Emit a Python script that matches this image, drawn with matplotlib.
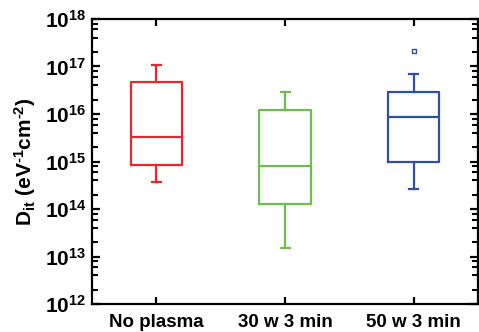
import matplotlib
matplotlib.use('Agg')
import matplotlib.pyplot as plt
from matplotlib.ticker import FixedLocator, NullFormatter

# --- DATA ---
groups = ['No plasma', '30 w 3 min', '50 w 3 min']
colors = ['#e8262d', '#6cbf4a', '#2f4fa2']
whislo = [3.7e14, 1.5e13, 2.6e14]
q1 = [8.4e14, 1.25e14, 1.0e15]
med = [3.3e15, 7.9e14, 8.6e15]
q3 = [4.8e16, 1.2e16, 2.9e16]
whishi = [1.07e17, 2.9e16, 7.1e16]
fliers = [[], [], [2.15e17]]
decades = list(range(12, 19))
minor_subs = [2, 4, 6, 8]

plt.rcParams['font.family'] = ['Liberation Sans', 'DejaVu Sans']
plt.rcParams['font.weight'] = 'bold'
plt.rcParams['mathtext.fontset'] = 'custom'
plt.rcParams['mathtext.rm'] = 'Liberation Sans:bold'
plt.rcParams['mathtext.it'] = 'Liberation Sans:bold'
plt.rcParams['mathtext.bf'] = 'Liberation Sans:bold'

fig = plt.figure(figsize=(4.79, 3.32), dpi=100)
ax = fig.add_axes([0.192, 0.084, 0.806, 0.859])

for i in range(len(groups)):
    c = colors[i]
    s = {'whislo': whislo[i], 'q1': q1[i], 'med': med[i], 'q3': q3[i],
         'whishi': whishi[i], 'fliers': fliers[i]}
    ax.bxp([s], positions=[i + 1], widths=0.4, showfliers=True,
           boxprops=dict(color=c, linewidth=1.6),
           medianprops=dict(color=c, linewidth=1.6),
           whiskerprops=dict(color=c, linewidth=1.6),
           capprops=dict(color=c, linewidth=1.6),
           capwidths=0.07,
           flierprops=dict(marker='s', markersize=3, markerfacecolor='white',
                           markeredgecolor=c, markeredgewidth=1.0))

ax.set_yscale('log')
ax.set_ylim(1e12, 1e18)
ax.set_xlim(0.5, 3.5)
ax.set_xticks([1, 2, 3])
ax.set_xticklabels(groups, fontsize=13.5, fontweight='bold')

ax.yaxis.set_major_locator(FixedLocator([10.0 ** k for k in decades]))
ax.yaxis.set_minor_locator(FixedLocator([m * 10.0 ** k for k in decades[:-1] for m in minor_subs]))
ax.yaxis.set_minor_formatter(NullFormatter())
ax.set_yticklabels(['$10^{%d}$' % k for k in decades], fontsize=15)

ax.tick_params(axis='both', which='both', direction='in', top=True, right=True)
ax.tick_params(axis='y', which='major', length=6, width=1.6, pad=4)
ax.tick_params(axis='y', which='minor', length=4, width=1.5, left=True, right=True)
ax.tick_params(axis='x', which='major', length=5, width=1.6, pad=7)
ax.tick_params(axis='x', which='minor', bottom=False, top=False)

for sp in ax.spines.values():
    sp.set_linewidth(1.6)

ax.set_ylabel('D$_{\\mathregular{it}}$ (eV$^{\\mathregular{\u20101}}$cm$^{\\mathregular{\u20102}}$)',
              fontsize=15, fontweight='bold', labelpad=5)

fig.savefig('out.png', dpi=100)
